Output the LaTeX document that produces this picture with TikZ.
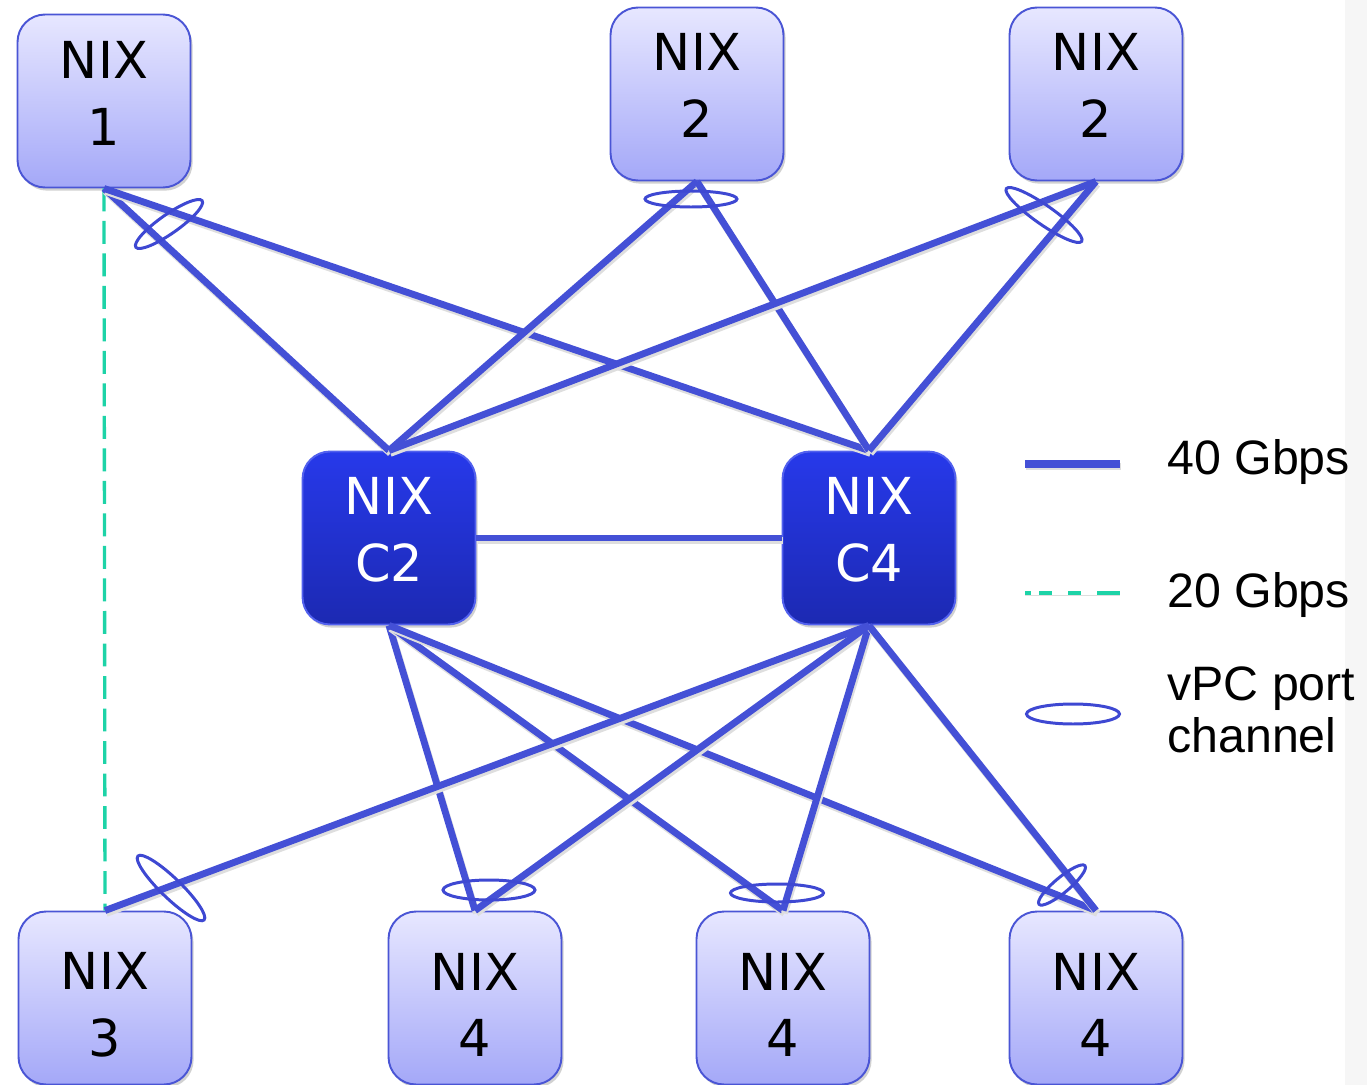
\documentclass[tikz,border=0pt]{standalone}
\usepackage{fontspec}
\setmainfont{Liberation Sans}
\newfontfamily\nixfont{DejaVu Sans}
\usetikzlibrary{shapes.geometric,shadows}
\definecolor{linkc}{HTML}{4450D6}
\definecolor{vpcc}{HTML}{3E48D2}
\definecolor{borderc}{HTML}{4A55D5}
\definecolor{ltop}{HTML}{E7E7FF}
\definecolor{lbot}{HTML}{A4A8F8}
\definecolor{dtop}{HTML}{2739EA}
\definecolor{dbot}{HTML}{1C29B2}
\definecolor{greenc}{HTML}{1DD3A7}
\definecolor{stripc}{HTML}{F6F6F6}
\begin{document}
\begin{tikzpicture}[x=0.02cm,y=-0.02cm,
  boxbase/.style={rectangle, rounded corners=0.55cm, minimum width=3.46cm, minimum height=3.46cm, inner sep=0pt,
    draw=borderc, line width=1.1pt,
    drop shadow={shadow xshift=1.2pt, shadow yshift=-1.8pt, fill=black, opacity=0.18}},
  lbox/.style={boxbase, top color=ltop, bottom color=lbot},
  dbox/.style={boxbase, top color=dtop, bottom color=dbot, draw=dtop!80!white},
  nixtxt/.style={align=center, font=\nixfont\fontsize{29}{38}\selectfont, inner sep=0pt},
  link/.style={draw=linkc, line width=3.9pt,
    preaction={draw=black!13, line width=3.9pt, transform canvas={xshift=0.8pt,yshift=-1.6pt}}},
  link20/.style={draw=greenc, line width=1.9pt, dash pattern=on 13pt off 5.5pt},
  vpc/.style={ellipse, draw=vpcc, line width=1.7pt, inner sep=0pt},
  legtxt/.style={anchor=west, font=\fontsize{27.5}{30}\selectfont, inner sep=0pt}
]
\useasboundingbox (0,0) rectangle (1367,1085);
\fill[stripc] (1345,0) rectangle (1367,1085);

% boxes
\node[lbox] (n1) at (104,101) {};
\node[lbox] (n2a) at (697,94) {};
\node[lbox] (n2b) at (1096,94) {};
\node[dbox] (c2) at (389,538) {};
\node[dbox] (c4) at (869,538) {};
\node[lbox] (n3) at (105,998) {};
\node[lbox] (n4a) at (475,998) {};
\node[lbox] (n4b) at (783,998) {};
\node[lbox] (n4c) at (1096,998) {};

% box labels
\node[nixtxt] (n1t) at ([yshift=4.5pt]n1.center) {NIX\\1};
\node[nixtxt] (n2at) at ([yshift=5pt]n2a.center) {NIX\\2};
\node[nixtxt] (n2bt) at ([yshift=5pt]n2b.center) {NIX\\2};
\node[nixtxt, text=white] (c2t) at ([yshift=4.5pt]c2.center) {NIX\\C2};
\node[nixtxt, text=white] (c4t) at ([yshift=4.5pt]c4.center) {NIX\\C4};
\node[nixtxt] (n3t) at ([yshift=-4pt]n3.center) {NIX\\3};
\node[nixtxt] (n4at) at ([yshift=-4pt]n4a.center) {NIX\\4};
\node[nixtxt] (n4bt) at ([yshift=-4pt]n4b.center) {NIX\\4};
\node[nixtxt] (n4ct) at ([yshift=-4pt]n4c.center) {NIX\\4};

% 20 Gbps link
\draw[link20] (n1.south) -- (n3.north);

% 40 Gbps links
\draw[link] (n1.south) -- (c2.north);
\draw[link] (n1.south) -- (c4.north);
\draw[link] (n2a.south) -- (c2.north);
\draw[link] (n2a.south) -- (c4.north);
\draw[link] (n2b.south) -- (c2.north);
\draw[link] (n2b.south) -- (c4.north);
\draw[link] (c2.east) -- (c4.west);
\draw[link] (c2.south) -- (n4a.north);
\draw[link] (c2.south) -- (n4b.north);
\draw[link] (c2.south) -- (n4c.north);
\draw[link] (c4.south) -- (n3.north);
\draw[link] (c4.south) -- (n4a.north);
\draw[link] (c4.south) -- (n4b.north);
\draw[link] (c4.south) -- (n4c.north);

% vPC port channels
\node[vpc, minimum width=1.62cm, minimum height=0.38cm, rotate=35] (e1) at (169,224) {};
\node[vpc, minimum width=1.84cm, minimum height=0.32cm] (e2) at (691,199) {};
\node[vpc, minimum width=1.84cm, minimum height=0.38cm, rotate=-35] (e3) at (1044,215) {};
\node[vpc, minimum width=1.84cm, minimum height=0.4cm, rotate=-44] (e4) at (171,888) {};
\node[vpc, minimum width=1.84cm, minimum height=0.4cm] (e5) at (489,890) {};
\node[vpc, minimum width=1.86cm, minimum height=0.36cm] (e6) at (777,893) {};
\node[vpc, minimum width=1.2cm, minimum height=0.3cm, rotate=40] (e7) at (1062,885) {};

% legend
\coordinate (l1a) at (1025,464);
\coordinate (l1b) at (1120,464);
\draw[link, line width=4.4pt] (l1a) -- (l1b);
\coordinate (l2a) at (1025,593);
\coordinate (l2b) at (1120,593);
\draw[link20, line width=2.3pt, dash pattern=on 3.5pt off 4.5pt on 7.5pt off 9pt on 7.5pt off 9pt on 14pt off 20pt,
  preaction={draw=black!13, transform canvas={yshift=-1.6pt}}] (l2a) -- (l2b);
\node[vpc, minimum width=1.86cm, minimum height=0.4cm] (le) at (1073,714) {};
\node[legtxt] (lt40) at (1167,462) {40 Gbps};
\node[legtxt] (lt20) at (1167,595) {20 Gbps};
\node[legtxt] (ltv1) at (1167,689) {vPC port};
\node[legtxt] (ltv2) at (1167,735) {channel};
\end{tikzpicture}
\end{document}
